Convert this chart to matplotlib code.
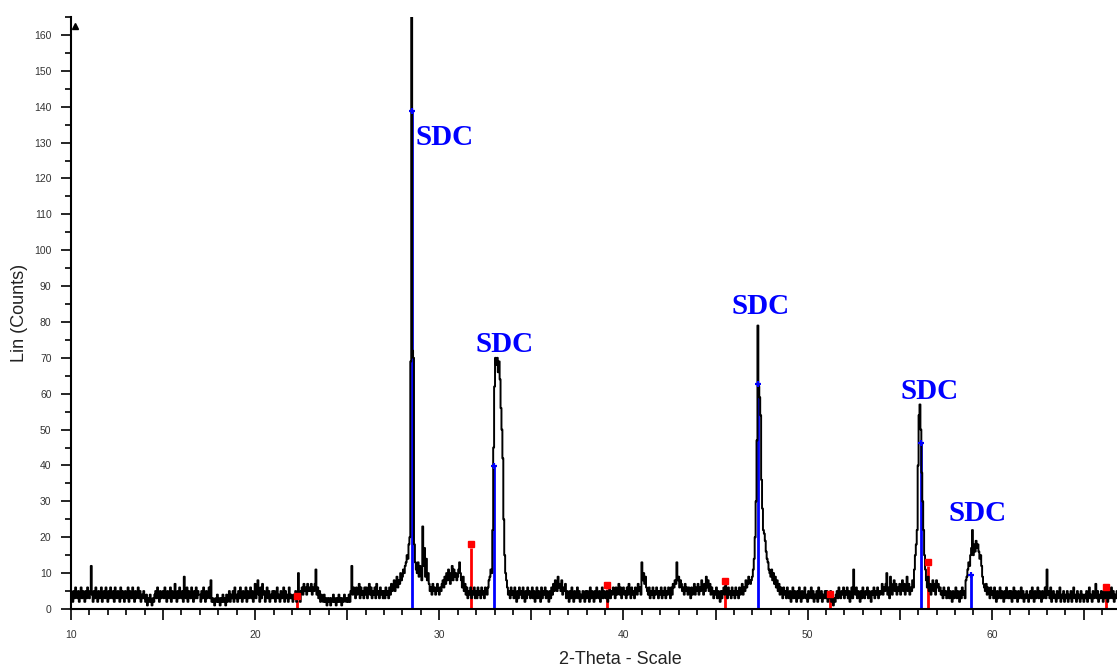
import matplotlib
matplotlib.use("Agg")
import matplotlib.pyplot as plt
from matplotlib.ticker import MultipleLocator, FuncFormatter

# ---------------- data ----------------
scan_start = 10.0
scan_step = 0.05
# measured counts, one row per degree (20 points per row, 0.05 deg step)
pattern_rows = [
    [5,4,2,5,3,6,4,3,5,2,4,6,3,5,4,2,5,3,6,4],            # 10
    [3,5,12,4,2,5,3,6,4,2,5,3,4,6,2,4,5,3,6,4],           # 11
    [2,5,3,6,4,3,5,2,6,4,3,5,4,2,6,3,5,4,2,5],            # 12
    [4,3,6,2,5,4,3,6,4,2,5,3,4,6,3,5,2,4,3,5],            # 13
    [3,2,4,1,3,2,4,2,1,3,2,4,5,3,6,4,2,5,3,4],            # 14
    [5,3,6,4,2,5,4,3,6,2,5,4,3,7,4,2,5,3,6,4],            # 15
    [3,5,2,9,4,3,6,2,5,4,3,6,4,2,5,3,6,3,5,4],            # 16
    [4,2,5,3,6,4,2,5,3,4,6,3,8,2,3,2,1,3,2,4],            # 17
    [2,3,1,3,2,4,2,3,1,4,2,3,5,2,4,3,5,2,6,3],            # 18
    [4,2,5,3,6,4,2,5,3,4,6,2,5,3,4,6,3,5,2,4],            # 19
    [7,3,5,8,4,2,6,3,7,4,5,2,4,6,3,5,2,4,3,5],            # 20
    [3,5,2,4,6,3,4,2,5,3,4,6,2,5,3,4,2,6,3,4],            # 21
    [3,2,4,3,5,2,3,10,4,2,5,6,4,7,5,6,4,7,5,6],           # 22
    [5,7,4,6,5,7,11,4,6,3,5,2,4,3,2,4,2,3,1,3],           # 23
    [2,3,1,3,2,4,2,3,1,3,2,4,2,3,1,3,2,4,3,2],            # 24
    [3,2,4,2,5,12,4,6,5,3,6,4,5,7,3,6,4,5,3,6],           # 25
    [4,6,3,5,7,4,6,3,5,4,6,3,7,4,5,3,6,4,5,3],            # 26
    [5,3,6,4,5,3,6,4,7,5,6,8,5,7,9,6,8,7,10,8],           # 27
    [9,11,10,12,13,15,14,18,20,69,165,72,70,18,13,11,10,13,9,12],  # 28
    [10,8,23,12,17,9,14,8,10,7,5,6,4,7,5,6,4,5,7,5],      # 29
    [4,6,5,7,8,6,9,7,10,8,11,9,7,10,12,8,11,9,10,8],      # 30
    [9,11,13,10,8,6,9,5,7,4,6,3,5,4,6,3,5,4,6,3],         # 31
    [5,3,6,4,5,3,6,4,5,3,6,5,4,6,8,9,11,10,22,45],        # 32
    [62,70,68,70,66,69,64,56,50,42,25,15,10,8,6,4,5,3,6,4],  # 33
    [5,3,6,4,2,5,3,6,4,5,3,6,4,2,5,3,6,4,5,3],            # 34
    [4,6,3,5,2,4,6,3,5,4,2,6,3,5,4,6,3,5,4,2],            # 35
    [5,3,6,4,7,5,8,6,5,9,6,7,5,8,4,6,5,7,3,5],            # 36
    [4,2,5,3,6,4,2,5,3,4,6,3,5,2,4,3,5,4,2,5],            # 37
    [3,5,4,2,6,3,5,4,2,5,3,6,4,3,5,2,4,6,3,5],            # 38
    [4,3,5,2,4,6,3,5,4,6,5,3,6,4,5,7,4,6,3,5],            # 39
    [6,4,5,3,6,4,7,5,3,6,4,5,3,6,5,4,7,5,6,4],            # 40
    [13,8,10,7,9,6,5,4,6,3,5,4,6,3,5,4,6,5,3,5],          # 41
    [4,6,3,5,4,6,3,5,4,6,5,3,6,4,7,6,8,7,13,8],           # 42
    [9,6,8,7,5,6,4,7,5,6,4,6,5,3,6,4,5,7,4,6],            # 43
    [5,7,4,6,5,8,6,4,7,5,9,6,8,5,7,4,6,5,3,5],            # 44
    [4,6,3,5,4,2,5,3,5,6,4,7,5,3,6,4,5,3,6,4],            # 45
    [5,3,6,4,5,3,6,4,5,7,4,6,5,8,6,7,9,8,7,8],            # 46
    [9,11,14,20,30,47,79,62,59,54,36,28,22,21,19,16,14,13,11,10],  # 47
    [9,11,8,10,7,9,6,8,5,7,4,6,5,3,6,4,5,3,6,4],          # 48
    [3,5,2,4,6,3,5,4,2,5,3,6,4,2,5,3,4,6,3,4],            # 49
    [2,5,3,4,6,3,5,2,4,3,5,2,6,3,4,5,2,4,3,5],            # 50
    [3,5,2,4,3,5,2,4,1,3,2,4,5,3,6,4,3,5,4,6],            # 51
    [3,5,4,6,3,5,2,4,6,3,11,5,4,6,3,5,4,2,5,3],           # 52
    [6,4,3,5,4,6,3,5,4,2,5,4,6,3,5,4,6,3,5,4],            # 53
    [5,7,4,6,5,7,10,4,6,3,9,7,4,6,8,5,7,4,6,5],           # 54
    [7,4,6,8,5,7,4,6,9,5,7,4,6,5,8,6,11,15,18,22],        # 55
    [40,54,57,50,38,30,22,15,11,8,6,9,5,7,4,6,8,5,7,4],   # 56
    [8,6,7,5,6,4,5,3,6,4,5,3,4,6,3,5,4,2,5,3],            # 57
    [4,6,3,5,4,2,5,3,6,4,5,3,8,9,11,13,12,15,17,22],      # 58
    [15,18,16,19,17,18,16,14,15,12,9,7,6,5,7,4,6,5,3,6],  # 59
    [4,5,3,6,4,2,5,3,4,6,3,5,4,2,5,3,6,4,3,5],            # 60
    [3,5,2,4,6,3,5,4,2,5,3,4,6,3,5,2,4,3,5,4],            # 61
    [2,4,5,3,6,4,2,5,3,4,6,3,5,4,2,5,3,4,6,3],            # 62
    [11,4,5,3,6,2,4,5,3,4,2,5,3,4,6,2,4,3,5,2],           # 63
    [4,3,5,2,4,3,5,2,4,6,3,4,2,5,3,4,2,5,3,4],            # 64
    [2,4,3,5,2,4,6,3,4,2,5,3,4,7,3,5,2,4,3,5],            # 65
    [4,2,5,3,6,4,2,5,3,4,6,3,5,2,4,3,5],                  # 66
]

# SDC reference lines (2-theta, intensity)
sdc_pos = [28.53, 32.99, 47.28, 56.14, 58.86]
sdc_int = [138.7, 39.8, 62.7, 46.2, 9.5]

# secondary phase reference lines
red_pos = [22.28, 31.74, 39.13, 45.49, 51.20, 56.52, 66.20]
red_int = [2.5, 17.0, 5.5, 6.5, 3.0, 12.0, 5.0]

# SDC labels (left x, centre y)
label_text = ["SDC", "SDC", "SDC", "SDC", "SDC"]
label_x = [28.72, 31.95, 45.85, 55.02, 57.67]
label_y = [131.5, 73.8, 84.4, 60.7, 26.7]

x_ticks = [10, 20, 30, 40, 50, 60]
y_ticks = list(range(0, 161, 10))

# ---------------- figure ----------------
x_vals, y_vals = [], []
for r, row in enumerate(pattern_rows):
    for j, v in enumerate(row):
        x_vals.append(scan_start + r + scan_step * j)
        y_vals.append(v)

fig = plt.figure(figsize=(11.17, 6.70), dpi=100)
ax = fig.add_axes([71/1117, 1 - 609/670, 1 - 71/1117, (609 - 17)/670])

# reference sticks (behind data)
ax.vlines(sdc_pos, 0, sdc_int, colors="#0000ff", linewidth=2, zorder=2)
ax.vlines(red_pos, 0, red_int, colors="#ff0000", linewidth=2, zorder=2)

ax.plot(x_vals, y_vals, drawstyle="steps-mid", color="black", linewidth=1.4, zorder=3)

ax.plot(sdc_pos, sdc_int, linestyle="none", marker="+", ms=5, mew=1.6,
        color="#0000ff", zorder=4)
ax.plot(red_pos, [v + 1.2 for v in red_int], linestyle="none", marker="s", ms=4,
        color="#ff0000", mec="#ff0000", zorder=4)

for t, lx, ly in zip(label_text, label_x, label_y):
    ax.text(lx, ly, t, color="#0000ff", fontsize=21, fontweight="bold",
            family="Liberation Serif", ha="left", va="center", zorder=5)

ax.set_xlim(10, 66.8)
ax.set_ylim(0, 165)

for s in ("top", "right"):
    ax.spines[s].set_visible(False)
for s in ("left", "bottom"):
    ax.spines[s].set_linewidth(1.5)

ax.xaxis.set_major_locator(MultipleLocator(5))
ax.xaxis.set_minor_locator(MultipleLocator(1))
ax.xaxis.set_major_formatter(FuncFormatter(
    lambda v, p: f"{int(round(v))}" if int(round(v)) in x_ticks else ""))
ax.set_yticks(y_ticks)
ax.yaxis.set_minor_locator(MultipleLocator(5))

ax.tick_params(axis="both", which="major", direction="out", width=1.2,
               labelsize=7.5, labelcolor="#333333", pad=7)
ax.tick_params(axis="x", which="major", length=8)
ax.tick_params(axis="y", which="major", length=7)
ax.tick_params(axis="both", which="minor", direction="out", width=1.2, length=4)

for lab in ax.get_xticklabels() + ax.get_yticklabels():
    lab.set_family("Liberation Sans")

ax.set_xlabel("2-Theta - Scale", fontsize=13, family="Liberation Sans", color="#222222")
ax.set_ylabel("Lin (Counts)", fontsize=13, family="Liberation Sans", color="#222222")
ax.xaxis.set_label_coords((620 - 71) / 1046, -(651 - 609) / 592)
ax.yaxis.set_label_coords(-(71 - 28) / 1046, 0.5)

# small arrow at top of y axis
ax.plot([0.0035], [0.985], marker="^", ms=4, color="black",
        transform=ax.transAxes, clip_on=False, zorder=6)

fig.savefig("out.png", dpi=100)
